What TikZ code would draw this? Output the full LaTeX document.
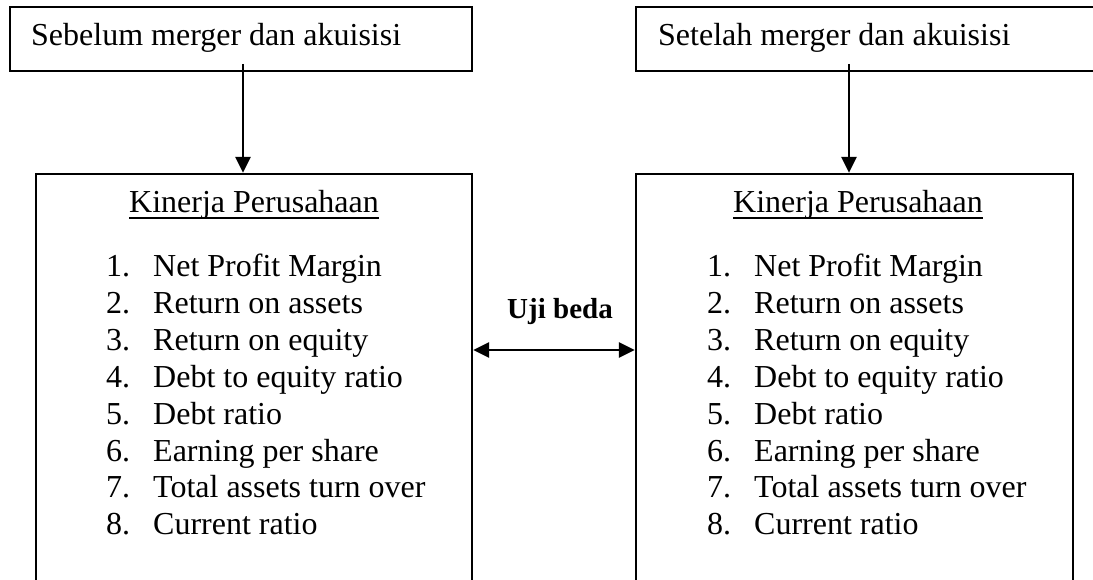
\documentclass[tikz,border=0pt]{standalone}
\usepackage{fontspec}
\setmainfont{Liberation Serif}
\usetikzlibrary{arrows.meta}
\newcommand{\myul}[1]{\underline{#1}}
\begin{document}
\begin{tikzpicture}[x=1pt,y=-1pt,
  boxstyle/.style={draw,line width=2.2pt,inner sep=0pt},
  arr/.style={line width=2.8pt,-{Triangle[width=15pt,length=16pt]}},
  darr/.style={line width=2.8pt,{Triangle[width=15pt,length=16pt]}-{Triangle[width=15pt,length=16pt]}},
  txt/.style={anchor=base west,inner sep=0pt,font=\fontsize{32}{36}\selectfont},
  btxt/.style={anchor=base,inner sep=0pt,font=\fontsize{29}{34}\selectfont\bfseries}]
\useasboundingbox (0,0) rectangle (1093,580);
\clip (0,0) rectangle (1093,580);
% boxes
\node[boxstyle,minimum width=462pt,minimum height=64pt] (tl) at (241,39) {};
\node[boxstyle,minimum width=480pt,minimum height=64pt] (tr) at (876,39) {};
\node[boxstyle,minimum width=436pt,minimum height=440pt] (lb) at (254,394) {};
\node[boxstyle,minimum width=437pt,minimum height=440pt] (rb) at (854.5,394) {};
% texts top
\node[txt] (tlt) at (31,46) {Sebelum merger dan akuisisi};
\node[txt] (trt) at (658,46) {Setelah merger dan akuisisi};
% titles
\node[txt] (lt) at (129,213) {Kinerja Perusahaan};
\node[txt] (rt) at (733,213) {Kinerja Perusahaan};
\draw[line width=1.8pt] ([yshift=-5pt]lt.base west) -- ([yshift=-5pt]lt.base east);
\draw[line width=1.8pt] ([yshift=-5pt]rt.base west) -- ([yshift=-5pt]rt.base east);
% lists
\foreach \i/\t in {1/Net Profit Margin,2/Return on assets,3/Return on equity,4/Debt to equity ratio,5/Debt ratio,6/Earning per share,7/Total assets turn over,8/Current ratio}{
  \pgfmathsetmacro{\yy}{277+36.8*(\i-1)}
  \node[txt] (ln\i) at (106,\yy) {\i.};
  \node[txt] (lx\i) at (153,\yy) {\t};
  \node[txt] (rn\i) at (707,\yy) {\i.};
  \node[txt] (rx\i) at (754,\yy) {\t};
}
% arrows
\coordinate (a1) at (243,64);
\coordinate (a2) at (849,64);
\draw[arr] (a1) -- (a1 |- lb.north);
\draw[arr] (a2) -- (a2 |- rb.north);
\coordinate (m) at (0,350);
\draw[darr] (lb.east |- m) -- (rb.west |- m);
\node[btxt] (uji) at (560,319) {Uji beda};
\end{tikzpicture}
\end{document}
